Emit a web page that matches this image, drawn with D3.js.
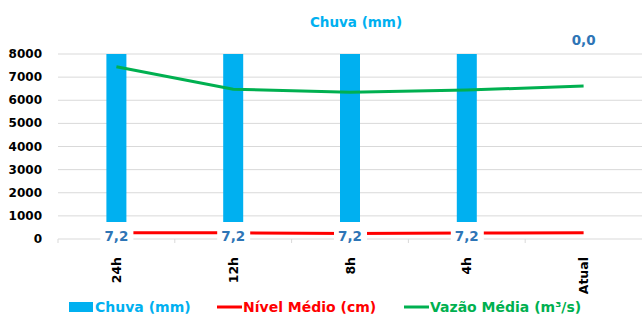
<!DOCTYPE html>
<html>
<head>
<meta charset="utf-8">
<script src="https://cdn.jsdelivr.net/npm/d3@7.9.0/dist/d3.min.js"></script>
<style>
  body { margin: 0; background: #fff; }
  svg { display: block; font-family: "DejaVu Sans", Verdana, sans-serif; font-weight: bold; }
</style>
</head>
<body>
<svg id="chart" width="642" height="316"></svg>
<script>
// chart data
const categories = ['24h', '12h', '8h', '4h', 'Atual'];
const chuva = [7.2, 7.2, 7.2, 7.2, 0.0];          // mm (secondary, reversed axis)
const nivel = [270, 265, 240, 260, 265];           // cm
const vazao = [7450, 6475, 6345, 6440, 6615];      // m³/s
const yTicks = [0, 1000, 2000, 3000, 4000, 5000, 6000, 7000, 8000];

const BLUE = '#00B0F0', RED = '#FF0000', GREEN = '#00B050', LABEL = '#2E75B6';

const svg = d3.select('#chart');
const m = { left: 58, right: 642, top: 54, bottom: 239 };

const x = d3.scaleBand().domain(categories).range([m.left, m.right]);
const y = d3.scaleLinear().domain([0, 8000]).range([m.bottom, m.top]);
// rain bars hang from the top on a reversed hidden axis
const y2 = d3.scaleLinear().domain([0, 7]).range([m.top, m.bottom]).clamp(true);
const cx = d => x(d) + x.bandwidth() / 2;

// gridlines
svg.append('g')
  .selectAll('line')
  .data(yTicks)
  .join('line')
  .attr('x1', m.left).attr('x2', m.right)
  .attr('y1', d => y(d)).attr('y2', d => y(d))
  .attr('stroke', '#d9d9d9').attr('stroke-width', 1);

// y axis labels
svg.append('g')
  .selectAll('text')
  .data(yTicks)
  .join('text')
  .attr('x', 42).attr('y', d => y(d))
  .attr('text-anchor', 'end').attr('dominant-baseline', 'central')
  .attr('font-size', 12).attr('fill', '#000')
  .text(d => d);

// x axis tick marks
svg.append('g')
  .selectAll('line')
  .data(categories)
  .join('line')
  .attr('x1', d => x(d)).attr('x2', d => x(d))
  .attr('y1', m.bottom).attr('y2', m.bottom + 4)
  .attr('stroke', '#d9d9d9');

// x labels, rotated
svg.append('g')
  .selectAll('text')
  .data(categories)
  .join('text')
  .attr('transform', d => `translate(${cx(d)},257) rotate(-90)`)
  .attr('text-anchor', 'end').attr('dominant-baseline', 'central')
  .attr('font-size', 12.5).attr('fill', '#000')
  .text(d => d);

// bars
const barW = 20;
svg.append('g')
  .selectAll('rect')
  .data(categories.map((c, i) => ({ c, v: chuva[i] })))
  .join('rect')
  .attr('x', d => cx(d.c) - barW / 2)
  .attr('y', y2(0))
  .attr('width', barW)
  .attr('height', d => y2(d.v) - y2(0))
  .attr('fill', BLUE);

// lines
const line = d3.line().x((d, i) => cx(categories[i])).y(d => y(d));
svg.append('path').datum(vazao).attr('d', line)
  .attr('fill', 'none').attr('stroke', GREEN).attr('stroke-width', 3);
svg.append('path').datum(nivel).attr('d', line)
  .attr('fill', 'none').attr('stroke', RED).attr('stroke-width', 3);

// bar data labels (with white boxes)
const labels = svg.append('g')
  .selectAll('g')
  .data(categories.map((c, i) => ({ c, v: chuva[i] })))
  .join('g')
  .attr('transform', d => d.v > 0
    ? `translate(${cx(d.c)},${y2(d.v) - 3})`
    : `translate(${cx(d.c)},${y2(d.v) - 14})`);
labels.filter(d => d.v > 0).append('rect')
  .attr('x', -16).attr('y', -14).attr('width', 33).attr('height', 27)
  .attr('fill', '#fff');
labels.append('text')
  .attr('text-anchor', 'middle').attr('dominant-baseline', 'central')
  .attr('font-size', 13.5).attr('fill', LABEL)
  .text(d => d.v.toFixed(1).replace('.', ','));

// subtitle
svg.append('text')
  .attr('x', 356).attr('y', 22)
  .attr('text-anchor', 'middle').attr('dominant-baseline', 'central')
  .attr('font-size', 13.5).attr('fill', BLUE)
  .text('Chuva (mm)');

// legend
const legendItems = [
  { name: 'Chuva (mm)', color: BLUE, type: 'bar', x: 69 },
  { name: 'Nível Médio (cm)', color: RED, type: 'line', x: 217 },
  { name: 'Vazão Média (m³/s)', color: GREEN, type: 'line', x: 404 }
];
const lg = svg.append('g')
  .selectAll('g')
  .data(legendItems)
  .join('g')
  .attr('transform', d => `translate(${d.x},307)`);
lg.filter(d => d.type === 'bar').append('rect')
  .attr('x', 0).attr('y', -5).attr('width', 24).attr('height', 10)
  .attr('fill', d => d.color);
lg.filter(d => d.type === 'line').append('line')
  .attr('x1', 0).attr('x2', 25).attr('y1', 0).attr('y2', 0)
  .attr('stroke', d => d.color).attr('stroke-width', 3);
lg.append('text')
  .attr('x', 26).attr('y', 0)
  .attr('dominant-baseline', 'central')
  .attr('font-size', 14).attr('fill', d => d.color)
  .text(d => d.name);
</script>
</body>
</html>
